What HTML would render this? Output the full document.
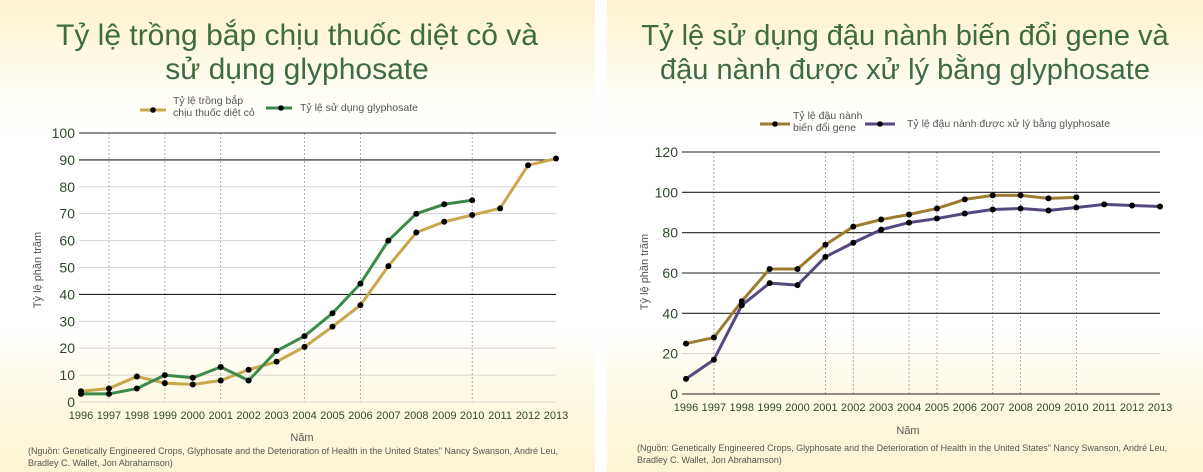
<!DOCTYPE html>
<html><head><meta charset="utf-8">
<style>
html,body{margin:0;padding:0;width:1203px;height:472px;overflow:hidden;background:#fff;font-family:"Liberation Sans","DejaVu Sans",sans-serif}
.panel{position:absolute;top:0;height:472px;background:linear-gradient(to bottom,#fcf2cc 0px,#fffdf5 90px,#fff 140px,#fff 330px,#fffbea 380px,#fdf4d2 472px)}
svg{position:absolute;left:0;top:0}
</style></head><body>
<div class="panel" style="left:0;width:595px"></div>
<div class="panel" style="left:607px;width:596px"></div>
<svg id="s" width="1203" height="472" xmlns="http://www.w3.org/2000/svg" font-family="Liberation Sans, DejaVu Sans, sans-serif">
<g fill="#3f6b40" font-size="29" text-anchor="middle">
<text x="297" y="45" font-size="30">Tỷ lệ trồng bắp chịu thuốc diệt cỏ và</text>
<text x="297" y="79" font-size="30">sử dụng glyphosate</text>
<text x="905" y="45">Tỷ lệ sử dụng đậu nành biến đổi gene và</text>
<text x="905" y="79">đậu nành được xử lý bằng glyphosate</text>
</g>
<g font-size="10.5" fill="#555">
<line x1="140" y1="110" x2="166" y2="110" stroke="#c8a64a" stroke-width="3"/><circle cx="153" cy="110" r="2.8" fill="#000"/>
<text x="173" y="104">Tỷ lệ trồng bắp</text><text x="173" y="116">chịu thuốc diệt cỏ</text>
<line x1="266" y1="108" x2="292" y2="108" stroke="#3b8a4a" stroke-width="3"/><circle cx="281" cy="108" r="2.8" fill="#000"/>
<text x="300" y="111">Tỷ lệ sử dụng glyphosate</text>
<line x1="760" y1="124" x2="790" y2="124" stroke="#9c7d30" stroke-width="3"/><circle cx="775" cy="124" r="2.8" fill="#000"/>
<text x="793" y="119">Tỷ lệ đậu nành</text><text x="793" y="131">biến đổi gene</text>
<line x1="865" y1="124" x2="895" y2="124" stroke="#56477f" stroke-width="3"/><circle cx="880" cy="124" r="2.8" fill="#000"/>
<text x="907" y="127">Tỷ lệ đậu nành được xử lý bằng glyphosate</text>
</g>
<g font-size="9" fill="#555">
<text x="28" y="454">(Nguồn: Genetically Engineered Crops, Glyphosate and the Deterioration of Health in the United States" Nancy Swanson, André Leu,</text>
<text x="28" y="466">Bradley C. Wallet, Jon Abrahamson)</text>
<text x="637" y="451">(Nguồn: Genetically Engineered Crops, Glyphosate and the Deterioration of Health in the United States" Nancy Swanson, André Leu,</text>
<text x="637" y="463">Bradley C. Wallet, Jon Abrahamson)</text>
</g>
<g font-size="11" fill="#555" text-anchor="middle">
<text x="302" y="441">Năm</text><text x="908" y="434">Năm</text>
<text transform="translate(41,270) rotate(-90)">Tỷ lệ phần trăm</text>
<text transform="translate(648,272) rotate(-90)">Tỷ lệ phần trăm</text>
</g>
<g id="g"></g>
</svg>
<script>
var NS="http://www.w3.org/2000/svg",g=document.getElementById("g");
function el(t,a,txt){var e=document.createElementNS(NS,t);for(var k in a)e.setAttribute(k,a[k]);if(txt!==undefined)e.textContent=txt;g.appendChild(e);return e;}
function chart(c){
 var dx=(c.x1-c.x0)/17;
 function X(i){return c.x0+dx*i}
 function Y(v){return c.y0-(v/c.max)*(c.y0-c.yt)}
 c.vl.forEach(function(i){el("line",{x1:X(i),x2:X(i),y1:c.yt,y2:c.y0,stroke:"#999","stroke-width":0.8,"stroke-dasharray":"2,2"})});
 for(var v=0;v<=c.max;v+=c.step){
  var dark=c.dark.indexOf(v)>=0;
  el("line",{x1:c.gx,x2:c.x1,y1:Y(v),y2:Y(v),stroke:dark?"#222":"#ccc","stroke-width":dark?1.1:0.8});
  el("text",{x:c.gx-4,y:Y(v)+5,"text-anchor":"end","font-size":14,fill:"#2d4a2a"},v);
 }
 for(var i=0;i<18;i++)el("text",{x:X(i),y:c.y0+17,"text-anchor":"middle","font-size":11,fill:"#2d4a2a"},1996+i);
 c.series.forEach(function(s){
  var p=s.d.map(function(v,i){return X(i)+","+Y(v)}).join(" ");
  el("polyline",{points:p,fill:"none",stroke:s.c,"stroke-width":3,"stroke-linejoin":"round"});
  s.d.forEach(function(v,i){el("circle",{cx:X(i),cy:Y(v),r:3,fill:"#000"})});
 });
}
chart({x0:81,x1:556,gx:79,y0:402,yt:133,max:100,step:10,dark:[100,90,40],vl:[1,3,5,8,10,14],
 series:[{c:"#c8a64a",d:[4,5,9.5,7,6.5,8,12,15,20.5,28,36,50.5,63,67,69.5,72,88,90.5]},
 {c:"#3b8a4a",d:[3,3,5,10,9,13,8,19,24.5,33,44,60,70,73.5,75]}]});
chart({x0:686,x1:1160,gx:682,y0:394,yt:152,max:120,step:20,dark:[120,100,80,60,40,0],vl:[1,5,6,8,9,11,12,14],
 series:[{c:"#9c7d30",d:[25,28,46,62,62,74,83,86.5,89,92,96.5,98.5,98.5,97,97.5]},
 {c:"#56477f",d:[7.5,17,44,55,54,68,75,81.5,85,87,89.5,91.5,92,91,92.5,94,93.5,93]}]});
</script>
</body></html>
